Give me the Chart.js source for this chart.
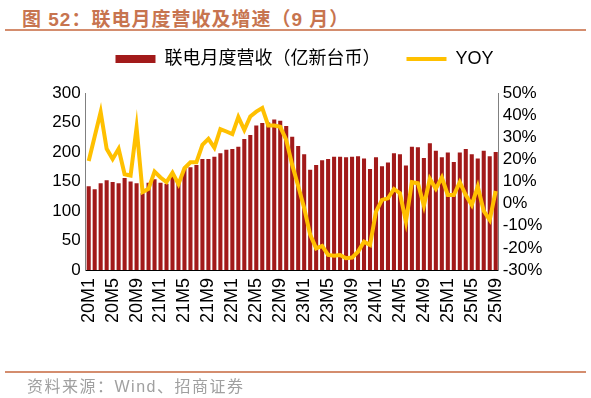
<!DOCTYPE html>
<html>
<head>
<meta charset="utf-8">
<script src="https://cdn.jsdelivr.net/npm/chart.js@4.4.1/dist/chart.umd.min.js"></script>
<style>
  html, body { margin: 0; padding: 0; background: #fff; }
  #wrap { position: relative; width: 591px; height: 398px; overflow: hidden; }
  #title { position: absolute; left: 22px; top: 4px; font: bold 19px "Liberation Sans", "Noto Sans CJK SC"; letter-spacing: 1px; color: #C7744F; white-space: nowrap; }
  .rule { position: absolute; left: 5px; width: 581px; height: 2px; background: #D48D6E; }
  #src { position: absolute; left: 27px; top: 373px; font: 16px "Liberation Sans", "Noto Sans CJK SC"; letter-spacing: 1.5px; color: #A0A0A0; white-space: nowrap; }
  canvas { position: absolute; left: 0; top: 0; }
</style>
</head>
<body>
<div id="wrap">
  <div id="title">图 52：联电月度营收及增速（9 月）</div>
  <div class="rule" style="top:29px"></div>
  <canvas id="chart" width="591" height="398"></canvas>
  <div class="rule" style="top:371px"></div>
  <div id="src">资料来源：Wind、招商证券</div>
</div>
<script>
// months 20M1 .. 25M9
const months = [
  "20M1","20M2","20M3","20M4","20M5","20M6","20M7","20M8","20M9","20M10","20M11","20M12",
  "21M1","21M2","21M3","21M4","21M5","21M6","21M7","21M8","21M9","21M10","21M11","21M12",
  "22M1","22M2","22M3","22M4","22M5","22M6","22M7","22M8","22M9","22M10","22M11","22M12",
  "23M1","23M2","23M3","23M4","23M5","23M6","23M7","23M8","23M9","23M10","23M11","23M12",
  "24M1","24M2","24M3","24M4","24M5","24M6","24M7","24M8","24M9","24M10","24M11","24M12",
  "25M1","25M2","25M3","25M4","25M5","25M6","25M7","25M8","25M9"
];
const shownMonths = ["20M1","20M5","20M9","21M1","21M5","21M9","22M1","22M5","22M9",
  "23M1","23M5","23M9","24M1","24M5","24M9","25M1","25M5","25M9"];

// 联电月度营收（亿新台币）
const revenue = [
  142, 137, 147, 152, 149, 147, 156, 150, 147, 130, 148, 154,
  148, 146, 160, 150, 171, 174, 178, 188, 188, 192, 198, 204,
  205, 209, 222, 229, 245, 249, 250, 255, 253, 244, 226, 210,
  196, 170, 178, 186, 188, 192, 192, 191, 192, 193, 189, 171,
  191, 176, 182, 198, 196, 177, 209, 208, 190, 215, 202, 191,
  199, 183, 199, 205, 196, 189, 202, 193, 200
];
// YOY (%)
const yoy = [
  19.3, 30.3, 41.4, 24.8, 20.2, 24.8, 13.3, 12.7, 34.4, 5.2, 6.7, 14.5,
  11.8, 9.7, 14.0, 8.8, 16.0, 18.7, 18.7, 26.6, 29.3, 25.3, 33.7, 32.6,
  31.4, 39.1, 33.3, 39.4, 41.6, 43.2, 35.3, 35.3, 34.7, 28.8, 17.5, 8.0,
  -2.0, -14.0, -20.2, -19.1, -23.2, -23.5, -23.2, -24.7, -24.4, -21.7, -17.2, -18.7,
  -3.6, 1.7, 2.4, 6.6, 4.7, -8.1, 9.7, 9.2, -0.9, 11.2, 6.7, 11.8,
  3.9, 3.9, 9.7, 3.9, -0.6, 7.7, -3.3, -7.4, 5.7
];
const leftTicks = [0, 300, 50];
const rightTicks = [-30, 50, 10];

const fontFamily = "'Liberation Sans', 'Noto Sans CJK SC', sans-serif";
const plotLeft = 85.7, plotRight = 498.7, plotBottom = 270;
const padLeft = 18, padBottom = 20;

new Chart(document.getElementById("chart").getContext("2d"), {
  data: {
    labels: months,
    datasets: [
      {
        type: "bar",
        label: "联电月度营收（亿新台币）",
        data: revenue,
        yAxisID: "y",
        backgroundColor: "#A21A1A",
        borderWidth: 0,
        barPercentage: 0.68,
        categoryPercentage: 1,
        pointStyle: "rect",
        order: 2,
      },
      {
        type: "line",
        label: "YOY",
        data: yoy,
        yAxisID: "y1",
        borderColor: "#FFC000",
        backgroundColor: "#FFC000",
        borderWidth: 4,
        pointRadius: 0,
        tension: 0,
        pointStyle: "line",
        order: 1,
      },
    ],
  },
  options: {
    responsive: false,
    animation: false,
    layout: { padding: { left: padLeft, right: 0, top: 24, bottom: padBottom } },
    plugins: {
      legend: {
        position: "top",
        labels: {
          usePointStyle: true,
          pointStyleWidth: 40,
          boxHeight: 8,
          padding: 26,
          color: "#000",
          font: { size: 18, family: fontFamily },
          sort: (a, b) => a.datasetIndex - b.datasetIndex,
        },
      },
      // empty spacer between legend and plot
      subtitle: {
        display: true,
        text: "",
        weight: 500,
        font: { size: 1, lineHeight: 1 },
        padding: { top: 0, bottom: 14 },
      },
      tooltip: { enabled: false },
    },
    scales: {
      x: {
        grid: { display: false, drawTicks: false },
        border: { display: true, color: "#000", width: 1 },
        ticks: {
          autoSkip: false,
          minRotation: 90,
          maxRotation: 90,
          padding: 8,
          color: "#000",
          font: { size: 18, family: fontFamily },
          callback: function (v, i) {
            const m = months[i];
            return shownMonths.includes(m) ? m : "";
          },
        },
        afterFit: (s) => { s.height = 398 - plotBottom - padBottom; },
      },
      y: {
        position: "left",
        min: leftTicks[0],
        max: leftTicks[1],
        grid: { display: false, drawTicks: false },
        border: { display: true, color: "#808080", width: 1 },
        ticks: { stepSize: leftTicks[2], autoSkip: false, padding: 5, color: "#000", font: { size: 17, family: fontFamily } },
        afterFit: (s) => { s.width = plotLeft - padLeft; },
      },
      y1: {
        position: "right",
        min: rightTicks[0],
        max: rightTicks[1],
        grid: { display: false, drawTicks: false },
        border: { display: true, color: "#808080", width: 1 },
        ticks: {
          stepSize: rightTicks[2],
          autoSkip: false,
          padding: 4,
          color: "#000",
          font: { size: 17, family: fontFamily },
          callback: (v) => v + "%",
        },
        afterFit: (s) => { s.width = 591 - plotRight; },
      },
    },
  },
});
</script>
</body>
</html>
